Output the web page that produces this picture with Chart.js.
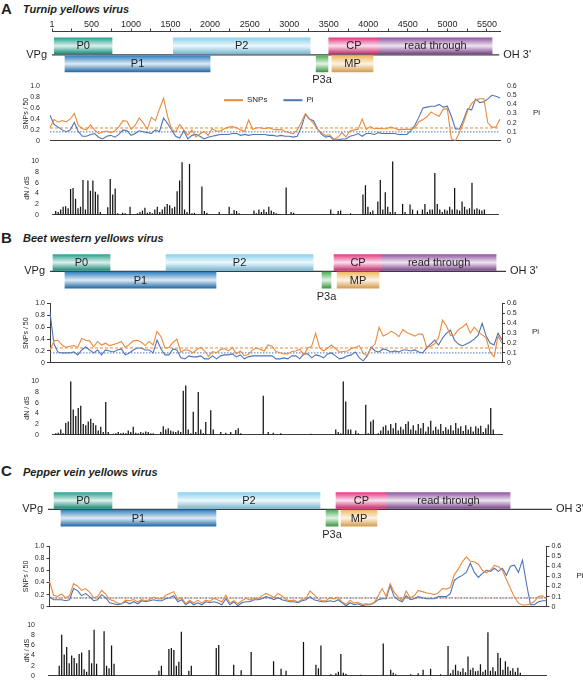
<!DOCTYPE html>
<html><head><meta charset="utf-8">
<script src="https://cdn.jsdelivr.net/npm/chart.js"></script>
<style>
html,body{margin:0;padding:0;background:#fff}
#wrap{position:relative;width:583px;height:685px;overflow:hidden;font-family:"Liberation Sans",Arial,Helvetica,sans-serif;color:#231f20}
canvas{position:absolute;left:0}
.pl{position:absolute;font-weight:bold;font-size:15px;line-height:16px}
.pt{position:absolute;font-weight:bold;font-style:italic;font-size:11px;line-height:14px}
</style></head><body>
<div id="wrap">
<div class="pl" style="left:1px;top:1px">A</div><div class="pt" style="left:23px;top:2px">Turnip yellows virus</div>
<div class="pl" style="left:1px;top:230px">B</div><div class="pt" style="left:23px;top:231px">Beet western yellows virus</div>
<div class="pl" style="left:1px;top:463px">C</div><div class="pt" style="left:23px;top:465px">Pepper vein yellows virus</div>
<canvas id="mapA" width="583" height="107" style="top:0px"></canvas>
<canvas id="lineA" width="583" height="77" style="top:75px"></canvas>
<canvas id="barA" width="583" height="72" style="top:152px"></canvas>
<canvas id="mapB" width="583" height="75" style="top:244px"></canvas>
<canvas id="lineB" width="583" height="75" style="top:294px"></canvas>
<canvas id="barB" width="583" height="72" style="top:372px"></canvas>
<canvas id="mapC" width="583" height="75" style="top:482px"></canvas>
<canvas id="lineC" width="583" height="77" style="top:536px"></canvas>
<canvas id="barC" width="583" height="69" style="top:616px"></canvas>
</div>
<script>
// ---------- genome maps ----------
const geneNames = ['P0','P1','P2','P3a','CP','MP','read through'];
const geneRows  = [1,2,1,2,1,2,1];
const geneColors = ['#1f9e89','#2b7bbd','#86cfec','#49ad52','#e0327e','#f1b45b','#8b4f9e'];
const endLabels = ['VPg', "OH 3'"];
const startA = [30,165,1535,3340,3500,3540,4135];
const endA   = [760,2000,3265,3490,4135,4060,5565];
const startB = [38,188,1451,3401,3551,3589,4151];
const endB   = [751,2076,3289,3513,4151,4113,5576];
const startC = [74,158,1573,3363,3483,3544,4100];
const endC   = [775,2032,3290,3508,4100,3979,5588];
const genomeA = [1,5655], genomeB = [1,5700], genomeC = [1,6095];
const axisTicksA = [1,250,500,750,1000,1250,1500,1750,2000,2250,2500,2750,3000,3250,3500,3750,4000,4250,4500,4750,5000,5250,5500];

// ---------- diversity (SNPs per 50 nt, Pi) ----------
const snpA = [0.24,0.39,0.34,0.37,0.35,0.40,0.50,0.28,0.22,0.20,
 0.29,0.20,0.13,0.16,0.18,0.15,0.18,0.26,0.37,0.36,
 0.21,0.28,0.42,0.33,0.21,0.43,0.37,0.58,0.78,0.45,
 0.21,0.16,0.30,0.20,0.11,0.20,0.07,0.13,0.17,0.10,
 0.22,0.18,0.18,0.22,0.25,0.26,0.24,0.20,0.17,0.38,
 0.21,0.24,0.24,0.22,0.24,0.21,0.20,0.21,0.17,0.15,
 0.13,0.20,0.34,0.50,0.40,0.32,0.21,0.15,0.10,0.11,
 0.03,0.06,0.15,0.07,0.18,0.20,0.21,0.40,0.21,0.26,
 0.22,0.23,0.22,0.22,0.25,0.23,0.20,0.21,0.21,0.21,
 0.24,0.35,0.39,0.44,0.53,0.48,0.45,0.58,0.59,0.04,
 0.00,0.15,0.33,0.55,0.68,0.75,0.77,0.77,0.33,0.25,
 0.25,0.40];
const piA = [0.28,0.18,0.15,0.12,0.10,0.12,0.20,0.10,0.05,0.05,
 0.07,0.08,0.04,0.02,0.05,0.06,0.04,0.07,0.12,0.11,
 0.06,0.08,0.11,0.10,0.09,0.08,0.12,0.10,0.25,0.19,
 0.12,0.05,0.03,0.11,0.02,0.06,0.07,0.05,0.02,0.04,
 0.05,0.06,0.07,0.07,0.07,0.08,0.08,0.06,0.07,0.06,
 0.07,0.07,0.07,0.07,0.06,0.06,0.05,0.06,0.05,0.05,
 0.04,0.05,0.15,0.29,0.24,0.22,0.13,0.07,0.04,0.05,
 0.01,0.01,0.02,0.02,0.05,0.06,0.08,0.05,0.08,0.08,
 0.07,0.09,0.08,0.08,0.08,0.08,0.07,0.07,0.07,0.11,
 0.17,0.26,0.36,0.37,0.38,0.38,0.40,0.37,0.38,0.27,
 0.13,0.13,0.23,0.35,0.34,0.46,0.42,0.43,0.46,0.50,
 0.49,0.47];
const snpB = [0.21,0.37,0.38,0.30,0.26,0.28,0.29,0.26,0.41,0.38,
 0.37,0.27,0.36,0.30,0.33,0.29,0.31,0.33,0.36,0.26,
 0.31,0.37,0.38,0.35,0.29,0.36,0.30,0.53,0.44,0.25,
 0.26,0.34,0.40,0.18,0.22,0.21,0.17,0.22,0.26,0.20,
 0.11,0.19,0.17,0.22,0.24,0.20,0.26,0.15,0.20,0.12,
 0.14,0.21,0.25,0.23,0.20,0.30,0.28,0.19,0.17,0.15,
 0.15,0.19,0.20,0.23,0.13,0.25,0.28,0.50,0.25,0.20,
 0.25,0.30,0.24,0.18,0.19,0.20,0.24,0.26,0.29,0.16,
 0.12,0.25,0.32,0.60,0.45,0.48,0.53,0.50,0.44,0.56,
 0.51,0.48,0.45,0.49,0.48,0.26,0.28,0.32,0.42,0.72,
 0.62,0.46,0.47,0.56,0.60,0.66,0.50,0.60,0.52,0.47,
 0.42,0.18,0.10,0.45,0.33];
const piB = [0.51,0.19,0.11,0.10,0.10,0.10,0.11,0.08,0.13,0.16,
 0.13,0.10,0.13,0.08,0.13,0.12,0.11,0.13,0.14,0.08,
 0.10,0.13,0.15,0.15,0.13,0.13,0.10,0.23,0.14,0.08,
 0.08,0.14,0.13,0.05,0.04,0.07,0.06,0.06,0.07,0.04,
 0.04,0.07,0.04,0.07,0.08,0.08,0.09,0.06,0.08,0.04,
 0.06,0.07,0.07,0.07,0.07,0.07,0.07,0.04,0.04,0.05,
 0.04,0.07,0.07,0.04,0.09,0.09,0.05,0.08,0.07,0.05,
 0.09,0.10,0.07,0.04,0.05,0.07,0.08,0.11,0.05,0.02,
 0.07,0.16,0.12,0.11,0.14,0.13,0.11,0.12,0.11,0.13,
 0.13,0.12,0.13,0.11,0.10,0.15,0.19,0.23,0.18,0.25,
 0.30,0.33,0.23,0.19,0.17,0.19,0.21,0.24,0.28,0.40,
 0.27,0.20,0.18,0.30,0.23];
const snpC = [0.42,0.19,0.17,0.21,0.15,0.18,0.38,0.34,0.27,0.30,
 0.24,0.15,0.17,0.27,0.21,0.12,0.10,0.06,0.05,0.11,
 0.10,0.12,0.08,0.12,0.10,0.12,0.16,0.13,0.13,0.19,
 0.22,0.25,0.12,0.15,0.05,0.11,0.06,0.11,0.06,0.11,
 0.09,0.14,0.11,0.08,0.19,0.06,0.10,0.05,0.10,0.14,
 0.11,0.14,0.13,0.18,0.22,0.19,0.15,0.22,0.18,0.12,
 0.10,0.11,0.08,0.12,0.14,0.26,0.20,0.13,0.10,0.10,
 0.15,0.13,0.16,0.08,0.04,0.11,0.06,0.07,0.04,0.05,
 0.04,0.07,0.18,0.30,0.17,0.38,0.24,0.16,0.10,0.26,
 0.15,0.18,0.27,0.25,0.23,0.22,0.20,0.23,0.30,0.29,
 0.32,0.53,0.62,0.74,0.82,0.75,0.74,0.70,0.60,0.56,
 0.60,0.68,0.66,0.60,0.45,0.30,0.16,0.06,0.03,0.03,
 0.05,0.09,0.17,0.18,0.13];
const piC = [0.10,0.07,0.07,0.07,0.06,0.07,0.18,0.16,0.11,0.13,
 0.10,0.06,0.07,0.12,0.09,0.04,0.03,0.02,0.03,0.05,
 0.03,0.05,0.03,0.06,0.05,0.06,0.07,0.06,0.06,0.08,
 0.09,0.11,0.05,0.07,0.02,0.05,0.02,0.04,0.02,0.05,
 0.04,0.05,0.04,0.02,0.08,0.02,0.05,0.01,0.04,0.05,
 0.05,0.07,0.07,0.08,0.10,0.09,0.07,0.09,0.07,0.06,
 0.05,0.05,0.04,0.06,0.07,0.10,0.07,0.06,0.05,0.05,
 0.06,0.05,0.07,0.04,0.01,0.04,0.02,0.03,0.01,0.02,
 0.02,0.04,0.07,0.08,0.08,0.21,0.10,0.07,0.05,0.11,
 0.07,0.08,0.10,0.09,0.08,0.08,0.08,0.10,0.10,0.10,
 0.13,0.26,0.29,0.31,0.34,0.43,0.34,0.29,0.33,0.36,
 0.35,0.38,0.35,0.38,0.31,0.40,0.41,0.34,0.46,0.23,
 0.02,0.02,0.05,0.06,0.06];
const snpMean = [0.235, 0.25, 0.145];
const piMean  = [0.098, 0.10, 0.087];

// ---------- dN/dS ----------
const dndsA = [0,0.7,0.5,1.0,1.5,1.6,1.2,4.8,5.0,3.0,1.2,1.5,6.5,1.0,6.4,4.5,6.4,4.3,3.8,0.5,
 0,0,1.4,6.7,3.8,4.9,0.3,0,0.4,0.3,0,1.5,0,0,0.3,0.5,0.8,1.3,0.4,0.5,
 0.3,1.0,1.5,0.5,1.0,1.5,2.0,1.8,1.2,1.5,4.4,6.4,9.8,1.0,0.5,9.5,0.3,0.4,0,0,
 5.3,0.7,0.4,0,0,0,0,0.5,0,0,0,1.5,0.2,0.9,0.7,0.3,0,0,0,0,
 0,0.8,0.3,1.0,0.5,1.0,0.5,1.5,0.8,0.5,0.3,0,0,0,5.1,0,0.5,0.4,0,0,
 0,0,0,0,0,0,0,0,0,0.1,0,0,1.0,0.2,0,0.7,0.8,0,0,0,
 0.3,0,0,0,0,3.8,5.5,1.5,0.5,0.8,0,2.5,6.5,1.0,4.2,1.5,0.5,10,0.5,0,
 0,2.0,0.5,0,1.9,1.0,0,0.8,0,1.0,2.0,0.5,1.0,1.0,7.8,2.0,1.0,0.5,1.0,0.8,
 1.5,1.0,5.0,1.0,0.8,2.5,1.5,1.0,1.2,6.0,1.0,1.2,1.0,0.8,1.0,0,0,0,0,0];
const dndsB = [0,0.3,0.4,1.0,0.3,2.2,2.5,10,4.7,3.5,5.0,5.4,2.0,1.8,2.5,3.0,2.2,1.8,0.8,1.5,
 0.5,6.1,0.5,0,0.2,0.3,0.5,0.3,0.4,0.3,0.8,0.5,1.5,0.4,0.3,0.5,0.4,0.6,0.5,0.3,
 0.3,0,0,0.5,1.6,1.0,1.2,0.8,0.6,0.5,0.8,0.5,8.2,9.2,1.0,0.3,4.3,0.5,8.0,1.0,
 0.3,2.4,0,4.6,1.0,0,0,0.5,0,0.4,0,0.5,0,0.9,1.2,0.3,0,0,0,0,
 0,0,0,0,7.3,0,0.5,0,0.4,0,0,0.3,0,0,0,0,0,0,0,0,
 0,0,0,0.2,0,0,0,0,0,0,0,0,0,1.0,0.5,0.3,10,6.2,1.0,1.0,
 0,0.8,0.3,0,0,5.6,0.3,2.5,2.8,0,0.3,0.8,1.5,1.8,0.8,2.0,1.2,2.2,0.8,1.5,
 1.0,2.0,2.5,1.0,1.8,0.8,2.0,1.2,2.2,0.6,1.5,2.6,0.8,1.5,1.0,2.0,0.7,1.4,1.0,1.8,
 0.8,2.2,1.2,1.6,0.7,1.8,1.0,1.5,0.6,1.6,1.2,1.7,0.5,1.2,1.9,5.0,1.0,0,0,0];
const dndsC = [0,0,0,0,2.0,8.1,4.2,5.7,2.5,4.0,3.5,2.5,4.3,4.6,1.3,0.8,5.1,2.5,9.1,2.4,
 0,0,8.8,2.0,1.5,6.0,2.4,0,0,0,0,0,0,0,0,0,0,0,0,0,
 0,0,0,0,1.0,2.0,0,0,5.3,5.5,5.1,2.0,2.8,8.7,0,0,1.0,2.0,0,0,
 0,0,0,0,0,0,0,5.5,6.1,0,0,0,0,0,2.2,0,0,1.1,0,0,
 0,4.7,0,0,0,0,0,0,0,0,2.9,0,0,1.4,0,1.0,0,0,0,0,
 0,0,6.7,0,0,0,0,2.2,1.5,6.0,0,0,0,0.3,0,0.5,0.8,4.3,0.6,0.4,
 0,0,0,0,0,0.2,0,0,0,0,0,0,0,0,6.4,0,0,1.2,0.6,0.3,
 0,0,0,0,0,0.3,0,0,0.5,0,1.2,0,0,1.4,0,0,0,0.3,0,0,
 5.9,0.5,1.2,2.2,1.0,0.8,1.5,0.7,3.8,1.2,1.6,0.9,1.0,2.3,0.8,1.2,8.6,1.0,1.7,0.9,
 4.5,3.5,1.2,2.9,1.8,1.0,1.5,0.8,1.6,0.6,0,0,0,0,0,0,0,0,0,0];

// ---------- styling ----------
const FONT = '"Liberation Sans", Arial, Helvetica, sans-serif';
const TXT = '#231f20', AXIS = '#3c3c3c';
const ORANGE = '#e98a3d', BLUE = '#4f74b6';
const BAR_T = 16;
Chart.defaults.font.family = FONT;
Chart.defaults.font.size = 7;
Chart.defaults.color = TXT;
Chart.defaults.animation = false;
Chart.defaults.responsive = false;
Chart.defaults.plugins.tooltip.enabled = false;
Chart.defaults.plugins.legend.display = false;

function mix(hex, to, t) {
  const n = parseInt(hex.slice(1), 16);
  const c = [(n >> 16) & 255, (n >> 8) & 255, n & 255].map(v => Math.round(v * (1 - t) + to * t));
  return 'rgb(' + c.join(',') + ')';
}
function geneFill(c) {
  const base = geneColors[c.dataIndex];
  const chart = c.chart, ys = chart.scales && chart.scales.y;
  if (!ys || !chart.chartArea || c.type !== 'data') return base;
  const cy = ys.getPixelForValue(geneRows[c.dataIndex]);
  const g = chart.ctx.createLinearGradient(0, cy - BAR_T / 2, 0, cy + BAR_T / 2);
  g.addColorStop(0, mix(base, 255, 0.05));
  g.addColorStop(0.5, mix(base, 255, 0.85));
  g.addColorStop(1, mix(base, 0, 0.12));
  return g;
}

const genomePlugin = {
  id: 'genome',
  beforeDatasetsDraw(chart, args, o) {
    const {ctx, scales: {x, y}} = chart;
    const yy = y.getPixelForValue(1.5);
    const x0 = x.getPixelForValue(o.range[0]), x1 = x.getPixelForValue(o.range[1]);
    ctx.save();
    ctx.strokeStyle = '#3a3a3a'; ctx.lineWidth = 1.2;
    ctx.beginPath(); ctx.moveTo(x0, yy); ctx.lineTo(x1, yy); ctx.stroke();
    ctx.font = '11px ' + FONT; ctx.fillStyle = TXT; ctx.textBaseline = 'middle';
    ctx.textAlign = 'right'; ctx.fillText(endLabels[0], x0 - 5, yy);
    ctx.textAlign = 'left'; ctx.fillText(endLabels[1], x1 + 4, yy);
    ctx.restore();
  },
  afterDatasetsDraw(chart) {
    const {ctx} = chart;
    const meta = chart.getDatasetMeta(0);
    ctx.save();
    ctx.font = '11px ' + FONT; ctx.fillStyle = TXT; ctx.textAlign = 'center'; ctx.textBaseline = 'middle';
    meta.data.forEach((el, i) => {
      const p = el.getProps(['x', 'y', 'base'], true);
      const cx = (p.x + p.base) / 2;
      if (geneNames[i] === 'P3a') ctx.fillText(geneNames[i], cx, p.y + 16.5);
      else ctx.fillText(geneNames[i], cx, p.y + 0.5);
    });
    ctx.restore();
  }
};

function makeMap(id, starts, ends, genome, axisMax, pad, showAxis, yMin) {
  const data = geneNames.map((n, i) => ({x: [starts[i], ends[i]], y: geneRows[i]}));
  return new Chart(document.getElementById(id), {
    type: 'bar',
    data: {datasets: [{label: 'genes', data, backgroundColor: geneFill, borderWidth: 0, barThickness: BAR_T}]},
    options: {
      indexAxis: 'y',
      layout: {padding: pad},
      scales: {
        x: {
          type: 'linear', position: 'top', min: 1, max: axisMax, display: showAxis,
          afterBuildTicks: s => { s.ticks = axisTicksA.map(v => ({value: v})); },
          ticks: {autoSkip: false, maxRotation: 0, padding: -1.5, font: {size: 9}, color: TXT,
                  callback: v => (v === 1 || v % 500 === 0) ? String(v) : ''},
          grid: {display: true, drawOnChartArea: false, drawTicks: true, tickLength: 3, color: AXIS},
          border: {display: true, color: AXIS, width: 1}
        },
        y: {type: 'linear', display: false, min: yMin, max: yMin + 4, reverse: true, offset: false}
      },
      plugins: {genome: {range: genome}}
    },
    plugins: [genomePlugin]
  });
}

const refLines = {
  id: 'refLines',
  beforeDatasetsDraw(chart, args, o) {
    const {ctx, chartArea} = chart;
    (o.lines || []).forEach(l => {
      const yy = chart.scales[l.axis].getPixelForValue(l.value);
      ctx.save(); ctx.strokeStyle = l.color; ctx.lineWidth = 1; ctx.setLineDash(l.dash);
      ctx.beginPath(); ctx.moveTo(chartArea.left, yy); ctx.lineTo(chartArea.right, yy); ctx.stroke();
      ctx.restore();
    });
  }
};
const sideLabel = {
  id: 'sideLabel',
  afterDraw(chart, args, o) {
    const {ctx, chartArea, scales} = chart;
    ctx.save(); ctx.font = '8px ' + FONT; ctx.fillStyle = TXT; ctx.textAlign = 'left'; ctx.textBaseline = 'middle';
    ctx.fillText(o.text, scales.y1.left + o.dx, (chartArea.top + chartArea.bottom) / 2 - 1);
    ctx.restore();
  }
};
// horizontal legend drawn inside the plot area from the datasets themselves
const inlineLegend = {
  id: 'inlineLegend',
  afterDraw(chart, args, o) {
    if (!o.show) return;
    const {ctx, chartArea} = chart;
    let x = o.x;
    const y = chartArea.top + o.dy;
    ctx.save(); ctx.font = '8px ' + FONT; ctx.textBaseline = 'middle'; ctx.textAlign = 'left';
    chart.data.datasets.forEach(ds => {
      ctx.strokeStyle = ds.borderColor; ctx.lineWidth = 2;
      ctx.beginPath(); ctx.moveTo(x, y); ctx.lineTo(x + 19, y); ctx.stroke();
      x += 23;
      ctx.fillStyle = TXT; ctx.fillText(ds.label, x, y);
      x += ctx.measureText(ds.label).width + 16;
    });
    ctx.restore();
  }
};
const fmt1 = v => v === 0 ? '0' : Number(v).toFixed(1);

function makeLine(id, snp, pi, k, o) {
  const axisGrid = {display: o.lines, drawOnChartArea: false, drawTicks: true, tickLength: 3, color: AXIS};
  const axisBorder = {display: o.lines, color: AXIS, width: 1};
  return new Chart(document.getElementById(id), {
    type: 'line',
    data: {
      labels: snp.map((_, i) => i + 1),
      datasets: [
        {label: 'SNPs', data: snp, yAxisID: 'y', borderColor: ORANGE, backgroundColor: ORANGE, borderWidth: 1.1, pointRadius: 0, tension: 0},
        {label: 'Pi', data: pi, yAxisID: 'y1', borderColor: BLUE, backgroundColor: BLUE, borderWidth: 1.1, pointRadius: 0, tension: 0}
      ]
    },
    options: {
      layout: {padding: {top: o.top, bottom: 6, left: 0, right: 0}},
      scales: {
        x: {type: 'category', offset: false, ticks: {display: false}, grid: {display: false},
            border: {display: true, color: AXIS, width: 1}, afterFit: s => { s.height = 0; }},
        y: {position: 'left', min: 0, max: 1, ticks: {stepSize: 0.2, autoSkip: false, padding: o.lines ? 2 : 7, callback: fmt1, font: {size: 7}},
            grid: axisGrid, border: axisBorder,
            title: {display: true, text: 'SNPs / 50', font: {size: 7}, padding: {top: 22, bottom: 0}},
            afterFit: s => { s.width = o.yW; }},
        y1: {position: 'right', min: 0, max: 0.6, ticks: {stepSize: 0.1, autoSkip: false, padding: o.lines ? 2 : 4, callback: fmt1, font: {size: 7}},
            grid: axisGrid, border: axisBorder,
            afterFit: s => { s.width = o.y1W; }}
      },
      plugins: {
        refLines: {lines: [
          {axis: 'y', value: snpMean[k], color: ORANGE, dash: [3, 2]},
          {axis: 'y1', value: piMean[k], color: BLUE, dash: [1.5, 1.5]}
        ]},
        sideLabel: {text: 'Pi', dx: o.piDx},
        inlineLegend: {show: o.legend, x: 224, dy: 14}
      }
    },
    plugins: [refLines, sideLabel, inlineLegend]
  });
}

function makeBars(id, vals, left, right, padB) {
  return new Chart(document.getElementById(id), {
    type: 'bar',
    data: {labels: vals.map((_, i) => i + 1),
      datasets: [{label: 'dN/dS', data: vals, backgroundColor: '#111111', borderWidth: 0, barPercentage: 0.5, categoryPercentage: 1}]},
    options: {
      layout: {padding: {top: 9, bottom: padB, left: 0, right: 583 - right}},
      scales: {
        x: {ticks: {display: false}, grid: {display: false}, border: {display: true, color: AXIS, width: 1},
            afterFit: s => { s.height = 0; }},
        y: {min: 0, max: 10, ticks: {stepSize: 2, autoSkip: false, padding: 5, font: {size: 7}}, grid: {display: false}, border: {display: false},
            title: {display: true, text: 'dN / dS', font: {size: 7}, padding: {top: 23, bottom: 0}},
            afterFit: s => { s.width = left; }}
      }
    }
  });
}

makeMap('mapA', startA, endA, genomeA, 5665, {left: 52, right: 83, top: 20.7, bottom: 3.6}, true, 0.2);
makeMap('mapB', startB, endB, genomeB, 5700, {left: 50, right: 77, top: 0, bottom: 4.6}, false, -0.05);
makeMap('mapC', startC, endC, genomeC, 6095, {left: 48, right: 31, top: 0, bottom: 4.6}, false, -0.05);

makeLine('lineA', snpA, piA, 0, {top: 10, yW: 50, y1W: 83, lines: false, legend: true, piDx: 33});
makeLine('lineB', snpB, piB, 1, {top: 9.5, yW: 50, y1W: 81, lines: true, legend: false, piDx: 30});
makeLine('lineC', snpC, piC, 2, {top: 10, yW: 49.5, y1W: 36.5, lines: true, legend: false, piDx: 30});

makeBars('barA', dndsA, 52, 498, 6);
makeBars('barB', dndsB, 52, 502, 6);
makeBars('barC', dndsC, 48, 546.5, 3.5);
</script>
</body></html>
